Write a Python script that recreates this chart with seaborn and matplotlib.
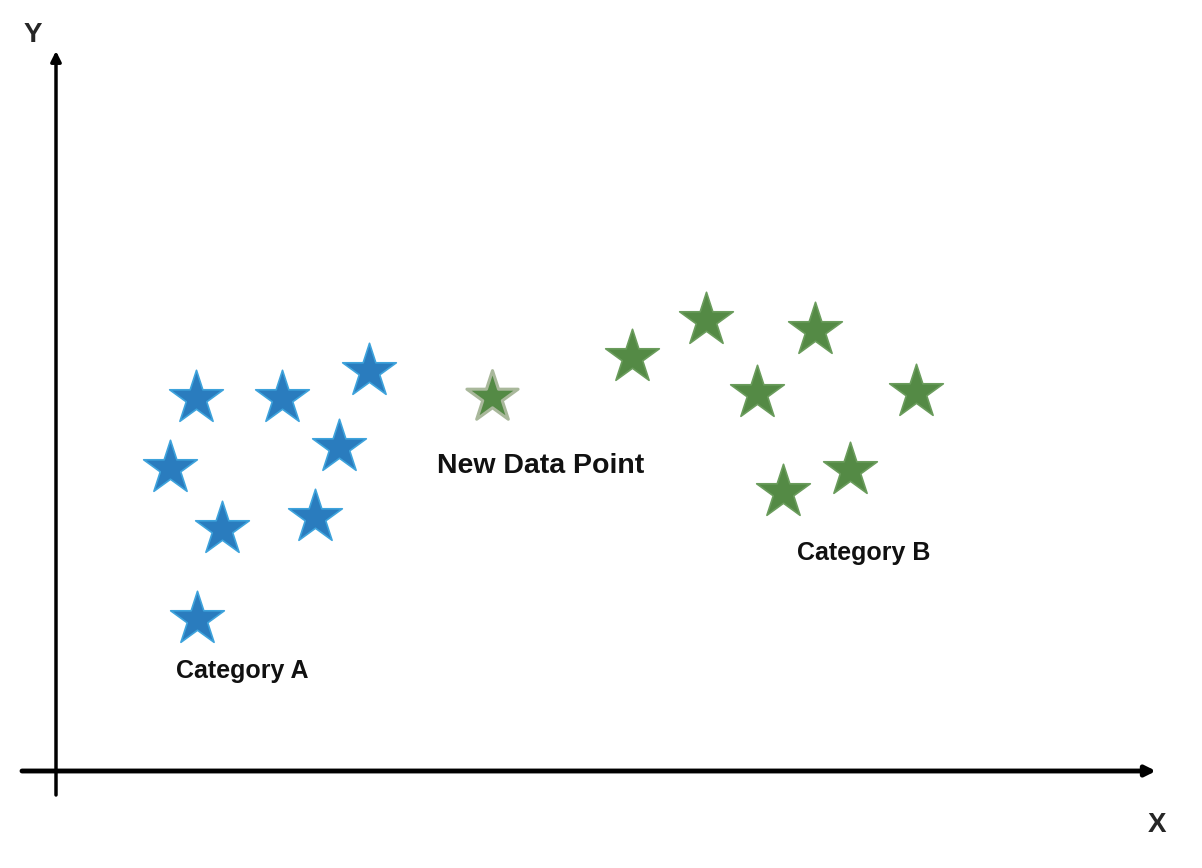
import matplotlib
matplotlib.use("Agg")
import matplotlib.pyplot as plt
import seaborn as sns
import pandas as pd

# positions measured from the axes origin (x right, y up)
cat_a_x = [140, 226, 313, 114, 283, 166, 259, 141]
cat_a_y = [373, 373, 400, 303, 324, 242, 254, 152]
cat_b_x = [576, 650, 759, 701, 860, 727, 794]
cat_b_y = [414, 451, 441, 378, 379, 279, 301]
new_x = [436]
new_y = [374]

df = pd.DataFrame({
    "x": cat_a_x + cat_b_x,
    "y": cat_a_y + cat_b_y,
    "cat": ["Category A"] * len(cat_a_x) + ["Category B"] * len(cat_b_x),
})
df_new = pd.DataFrame({"x": new_x, "y": new_y})

sns.set_style("white")
plt.rcParams["font.family"] = ["Liberation Sans", "DejaVu Sans"]

fig = plt.figure(figsize=(12.02, 8.68), dpi=100)
ax = fig.add_axes([0, 0, 1, 1])
ax.set_xlim(-56, 1146)
ax.set_ylim(-97, 771)
ax.axis("off")

# axes drawn as arrows
ax.annotate("", xy=(1100, 0), xytext=(-34, 0),
            arrowprops=dict(arrowstyle="-|>,head_length=0.6,head_width=0.3",
                            lw=3.5, color="black", shrinkA=0, shrinkB=0))
ax.annotate("", xy=(0, 720), xytext=(0, -24),
            arrowprops=dict(arrowstyle="-|>,head_length=0.6,head_width=0.3",
                            lw=2.5, color="black", shrinkA=0, shrinkB=0))
ax.text(-23, 736, "Y", fontsize=20, fontweight="bold", ha="center", va="center")
ax.text(1101, -54, "X", fontsize=20, fontweight="bold", ha="center", va="center")

palette = {"Category A": "#2a7cbe", "Category B": "#548a45"}
edges = {"Category A": "#3ea3dc", "Category B": "#6a9c5c"}
for name, grp in df.groupby("cat"):
    sns.scatterplot(data=grp, x="x", y="y", ax=ax, marker="*", s=1650,
                    color=palette[name], edgecolor=edges[name], linewidth=1.2,
                    legend=False)

sns.scatterplot(data=df_new, x="x", y="y", ax=ax, marker="*", s=1500,
                color="#548a45", edgecolor="#a9b89b", linewidth=2.2, legend=False)

ax.text(186, 100, "Category A", fontsize=18, fontweight="bold", ha="center", va="center",
        color="#111111")
ax.text(485, 305, "New Data Point", fontsize=20.5, fontweight="bold", ha="center",
        va="center", color="#111111")
ax.text(808, 218, "Category B", fontsize=18, fontweight="bold", ha="center", va="center",
        color="#111111")

ax.set_xlabel("")
ax.set_ylabel("")
fig.savefig("out.png", dpi=100, facecolor="white")
